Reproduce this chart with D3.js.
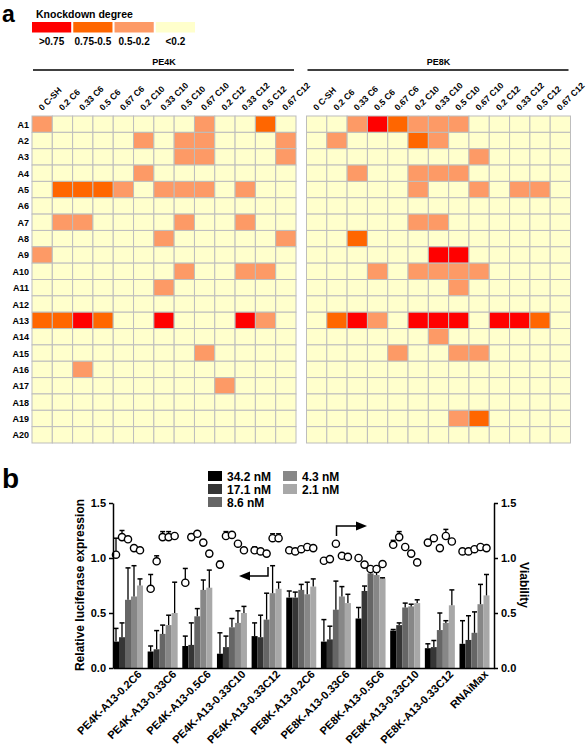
<!DOCTYPE html>
<html><head><meta charset="utf-8">
<script src="https://cdn.jsdelivr.net/npm/d3@7"></script>
<style>
body{margin:0;background:#fff}
svg{display:block}
text{font-family:"Liberation Sans",Arial,sans-serif;font-weight:bold;fill:#000}
</style>
</head><body>
<svg id="chart" width="588" height="750"></svg>
<script>
// ---------- Panel a data ----------
const rowLabels = ["A1","A2","A3","A4","A5","A6","A7","A8","A9","A10","A11","A12","A13","A14","A15","A16","A17","A18","A19","A20"];
const colLabels = ["0 C-SH","0.2 C6","0.33 C6","0.5 C6","0.67 C6","0.2 C10","0.33 C10","0.5 C10","0.67 C10","0.2 C12","0.33 C12","0.5 C12","0.67 C12"];
const levelLabels = [">0.75","0.75-0.5","0.5-0.2","<0.2"];
const levelCodes = [3,2,1,0];
// knockdown class: 0 <0.2, 1 0.5-0.2, 2 0.75-0.5, 3 >0.75
const pe4k = [
 [1,0,0,0,0,0,0,0,1,0,0,2,0],
 [0,0,0,0,0,1,0,1,1,0,0,0,1],
 [0,0,0,0,0,0,0,1,1,0,0,0,1],
 [0,0,0,0,0,1,0,0,0,0,0,0,0],
 [0,2,2,2,1,0,1,1,1,0,1,0,0],
 [0,0,0,0,0,0,0,0,0,0,0,0,0],
 [0,1,1,0,0,0,0,1,0,0,1,0,0],
 [0,0,0,0,0,0,1,0,0,0,0,0,1],
 [1,0,0,0,0,0,0,0,0,0,0,0,0],
 [0,0,0,0,0,0,0,1,0,0,1,1,0],
 [0,0,0,0,0,0,1,0,0,0,0,0,0],
 [0,0,0,0,0,0,0,0,0,0,0,0,0],
 [2,2,3,2,0,0,3,0,0,0,3,1,0],
 [0,0,0,0,0,0,0,0,0,0,0,0,0],
 [0,0,0,0,0,0,0,0,1,0,0,0,0],
 [0,0,1,0,0,0,0,0,0,0,0,0,0],
 [0,0,0,0,0,0,0,0,0,1,0,0,0],
 [0,0,0,0,0,0,0,0,0,0,0,0,0],
 [0,0,0,0,0,0,0,0,0,0,0,0,0],
 [0,0,0,0,0,0,0,0,0,0,0,0,0]
];
const pe8k = [
 [0,0,1,3,2,1,1,1,0,0,0,0,0],
 [0,1,0,0,0,2,1,0,0,0,0,0,0],
 [0,0,0,0,0,0,0,0,1,0,0,0,0],
 [0,0,1,0,0,1,1,1,0,0,0,0,0],
 [0,0,0,0,0,1,0,0,1,0,1,1,0],
 [0,0,0,0,0,0,0,0,0,0,0,0,0],
 [0,0,0,0,0,1,1,0,0,0,0,0,0],
 [0,0,2,0,0,0,0,0,0,0,0,0,0],
 [0,0,0,0,0,0,3,3,0,0,0,0,0],
 [0,0,0,1,0,1,1,1,1,0,0,0,0],
 [0,0,0,0,0,0,0,1,0,0,0,0,0],
 [0,0,0,0,0,0,0,0,0,0,0,0,0],
 [0,2,3,1,0,3,3,3,0,3,3,2,0],
 [0,0,0,0,0,0,1,0,0,0,0,0,0],
 [0,0,0,0,1,0,0,1,1,0,0,0,0],
 [0,0,0,0,0,0,0,0,0,0,0,0,0],
 [0,0,0,0,0,0,0,0,0,0,0,0,0],
 [0,0,0,0,0,0,0,0,0,0,0,0,0],
 [0,0,0,0,0,0,0,1,2,0,0,0,0],
 [0,0,0,0,0,0,0,0,0,0,0,0,0]
];

// ---------- Panel b data ----------
const groups = ["PE4K-A13-0.2C6","PE4K-A13-0.33C6","PE4K-A13-0.5C6","PE4K-A13-0.33C10","PE4K-A13-0.33C12",
                "PE8K-A13-0.2C6","PE8K-A13-0.33C6","PE8K-A13-0.5C6","PE8K-A13-0.33C10","PE8K-A13-0.33C12","RNAiMax"];
const concs = ["34.2 nM","17.1 nM","8.6 nM","4.3 nM","2.1 nM"];
const lucMean = [
 [0.24,0.28,0.62,0.65,0.75],
 [0.15,0.17,0.31,0.39,0.50],
 [0.20,0.21,0.47,0.71,0.73],
 [0.13,0.19,0.37,0.41,0.50],
 [0.29,0.28,0.44,0.68,0.72],
 [0.64,0.64,0.71,0.67,0.74],
 [0.24,0.26,0.53,0.65,0.59],
 [0.45,0.70,0.86,0.845,0.815],
 [0.34,0.39,0.55,0.56,0.59],
 [0.18,0.19,0.345,0.41,0.57],
 [0.22,0.255,0.32,0.58,0.66]
];
const lucSD = [
 [0.12,0.13,0.29,0.28,0.06],
 [0.05,0.17,0.08,0.09,0.28],
 [0.09,0.20,0.07,0.09,0.16],
 [0.19,0.10,0.08,0.11,0.06],
 [0.12,0.20,0.24,0.25,0.06],
 [0.06,0.05,0.05,0.11,0.07],
 [0.20,0.12,0.26,0.09,0.08],
 [0.10,0.045,0.03,0.025,0.005],
 [0.01,0.02,0.04,0.02,0.03],
 [0.04,0.06,0.155,0.02,0.14],
 [0.21,0.22,0.19,0.18,0.19]
];
const viab = [
 [1.03,1.19,1.17,1.09,1.07],
 [0.72,0.97,1.19,1.19,1.20],
 [0.775,1.19,1.22,1.14,1.04],
 [0.94,1.20,1.21,1.13,1.07],
 [1.07,1.06,1.04,1.18,1.18],
 [1.07,1.06,1.08,1.10,1.09],
 [0.975,0.99,1.13,1.02,1.01],
 [1.00,0.94,0.90,0.90,0.945],
 [1.12,1.19,1.10,1.04,0.96],
 [1.14,1.18,1.09,1.20,1.15],
 [1.06,1.06,1.08,1.10,1.09]
];
const viabSD = [
 [0.15,0.06,0,0,0],
 [0.13,0.05,0.05,0.05,0],
 [0.13,0.03,0,0,0.02],
 [0.03,0.04,0,0,0],
 [0.03,0,0,0.04,0.04],
 [0.02,0,0,0,0],
 [0,0,0,0,0],
 [0,0,0.02,0.02,0],
 [0.04,0.05,0,0,0],
 [0,0,0,0.06,0],
 [0.02,0,0,0,0]
];
const yTicks = [0,0.5,1.0,1.5];

// ---------- Drawing ----------
const svg = d3.select("#chart");
const heatColor = d3.scaleOrdinal().domain([3,2,1,0]).range(["#ff0000","#ff6600","#fd9a66","#ffffcc"]);

// panel letters
svg.append("text").attr("x",2).attr("y",21.5).attr("font-size",23).text("a");
svg.append("text").attr("x",2).attr("y",488).attr("font-size",28).text("b");

// legend a
svg.append("text").attr("x",36).attr("y",18).attr("font-size",10.5).text("Knockdown degree");
const legX = d3.scaleBand().domain(levelLabels).range([32,195]).paddingInner(0.05);
levelLabels.forEach((l,i)=>{
  svg.append("rect").attr("x",legX(l)).attr("y",22).attr("width",legX.bandwidth()).attr("height",10.5)
    .attr("fill",heatColor(levelCodes[i]));
  svg.append("text").attr("x",legX(l)+legX.bandwidth()/2).attr("y",45).attr("text-anchor","middle")
    .attr("font-size",10).text(l);
});

const yRow = d3.scaleBand().domain(rowLabels).range([116,443]);
function drawPanel(mat, x0, x1, title){
  const x = d3.scaleBand().domain(colLabels).range([x0,x1]);
  const g = svg.append("g");
  g.append("line").attr("x1",x0+1).attr("x2",x1-2).attr("y1",70).attr("y2",70).attr("stroke","#000").attr("stroke-width",1.3);
  g.append("text").attr("x",(x0+x1)/2).attr("y",65).attr("text-anchor","middle").attr("font-size",9).text(title);
  colLabels.forEach(c=>{
    g.append("text").attr("font-size",8.7)
      .attr("transform",`translate(${x(c)+x.bandwidth()/2},111) rotate(-45)`).text(c);
  });
  mat.forEach((row,ri)=>{
    row.forEach((v,ci)=>{
      g.append("rect").attr("x",x(colLabels[ci])).attr("y",yRow(rowLabels[ri]))
        .attr("width",x.bandwidth()).attr("height",yRow.bandwidth())
        .attr("fill",heatColor(v)).attr("stroke","#bdbdbd").attr("stroke-width",1);
    });
  });
}
drawPanel(pe4k,32,296,"PE4K");
drawPanel(pe8k,306.5,570.5,"PE8K");
rowLabels.forEach(r=>{
  svg.append("text").attr("x",29).attr("y",yRow(r)+yRow.bandwidth()/2+3.5).attr("text-anchor","end")
    .attr("font-size",9).text(r);
});

// panel b
const x0 = d3.scaleBand().domain(groups).range([113,113+11*34.65]).padding(0);
const x1 = d3.scaleBand().domain(concs).range([0,30]);
const yL = d3.scaleLinear().domain([0,1.5]).range([668,503]);
const yR = d3.scaleLinear().domain([0,1.5]).range([668,503]);
const barColor = d3.scaleOrdinal().domain(concs).range(["#000000","#363636","#666666","#878787","#a8a8a8"]);

const bg = svg.append("g");
groups.forEach((gname,gi)=>{
  concs.forEach((c,ci)=>{
    const bx = x0(gname)+x1(c), bw = x1.bandwidth();
    const m = lucMean[gi][ci], s = lucSD[gi][ci];
    bg.append("rect").attr("x",bx).attr("y",yL(m)).attr("width",bw).attr("height",yL(0)-yL(m)).attr("fill",barColor(c));
    if(s>0){
      const cx = bx+bw/2;
      bg.append("line").attr("x1",cx).attr("x2",cx).attr("y1",yL(m)).attr("y2",yL(m+s)).attr("stroke","#000").attr("stroke-width",1.3);
      bg.append("line").attr("x1",cx-2.5).attr("x2",cx+2.5).attr("y1",yL(m+s)).attr("y2",yL(m+s)).attr("stroke","#000").attr("stroke-width",1.5);
    }
  });
});
// viability points
groups.forEach((gname,gi)=>{
  concs.forEach((c,ci)=>{
    const cx = x0(gname)+x1(c)+x1.bandwidth()/2;
    const v = viab[gi][ci], s = viabSD[gi][ci];
    if(s>0){
      bg.append("line").attr("x1",cx).attr("x2",cx).attr("y1",yR(v)).attr("y2",yR(v+s)).attr("stroke","#000").attr("stroke-width",1.3);
      bg.append("line").attr("x1",cx-2.5).attr("x2",cx+2.5).attr("y1",yR(v+s)).attr("y2",yR(v+s)).attr("stroke","#000").attr("stroke-width",1.5);
    }
    bg.append("circle").attr("cx",cx).attr("cy",yR(v)).attr("r",3.6).attr("fill","#fff").attr("stroke","#000").attr("stroke-width",1.4);
  });
});

// axes
const axL = svg.append("g").attr("transform","translate(113,0)")
  .call(d3.axisLeft(yL).tickValues(yTicks).tickFormat(d3.format(".1f")).tickSize(4).tickSizeOuter(0));
const axR = svg.append("g").attr("transform","translate(494,0)")
  .call(d3.axisRight(yR).tickValues(yTicks).tickFormat(d3.format(".1f")).tickSize(4).tickSizeOuter(0));
const axB = svg.append("g").attr("transform","translate(0,668)")
  .call(d3.axisBottom(x0).tickSize(0).tickSizeOuter(0));
[axL,axR,axB].forEach(a=>{
  a.selectAll("path,line").attr("stroke","#000").attr("stroke-width",1.5);
  a.selectAll("text").attr("font-size",11).attr("font-family","Liberation Sans, Arial, sans-serif").attr("font-weight","bold").attr("fill","#000");
});
axB.selectAll(".tick text").attr("x",0).attr("y",0).attr("dy",null)
  .attr("text-anchor","end").attr("transform","translate(12,7) rotate(-45)");

svg.append("text").attr("transform","translate(84,585) rotate(-90)").attr("text-anchor","middle")
  .attr("font-size",12).text("Relative luciferase expression");
svg.append("text").attr("transform","translate(520,585) rotate(90)").attr("text-anchor","middle")
  .attr("font-size",12).text("Viability");

// legend b
const legPos = [[208,471],[208,484],[208,497],[283,471],[283,484]];
concs.forEach((c,i)=>{
  const [lx,ly] = legPos[i];
  svg.append("rect").attr("x",lx).attr("y",ly).attr("width",14).attr("height",10).attr("fill",barColor(c));
  svg.append("text").attr("x",lx+19).attr("y",ly+9.5).attr("font-size",12).text(c);
});

// arrows
svg.append("path").attr("d","M268,567V576H248").attr("fill","none").attr("stroke","#000").attr("stroke-width",1.5);
svg.append("path").attr("d","M239,576L250,571.5L250,580.5Z").attr("fill","#000");
svg.append("path").attr("d","M336.5,536V526H357").attr("fill","none").attr("stroke","#000").attr("stroke-width",1.5);
svg.append("path").attr("d","M367,526L356,521.5L356,530.5Z").attr("fill","#000");
</script>
</body></html>
